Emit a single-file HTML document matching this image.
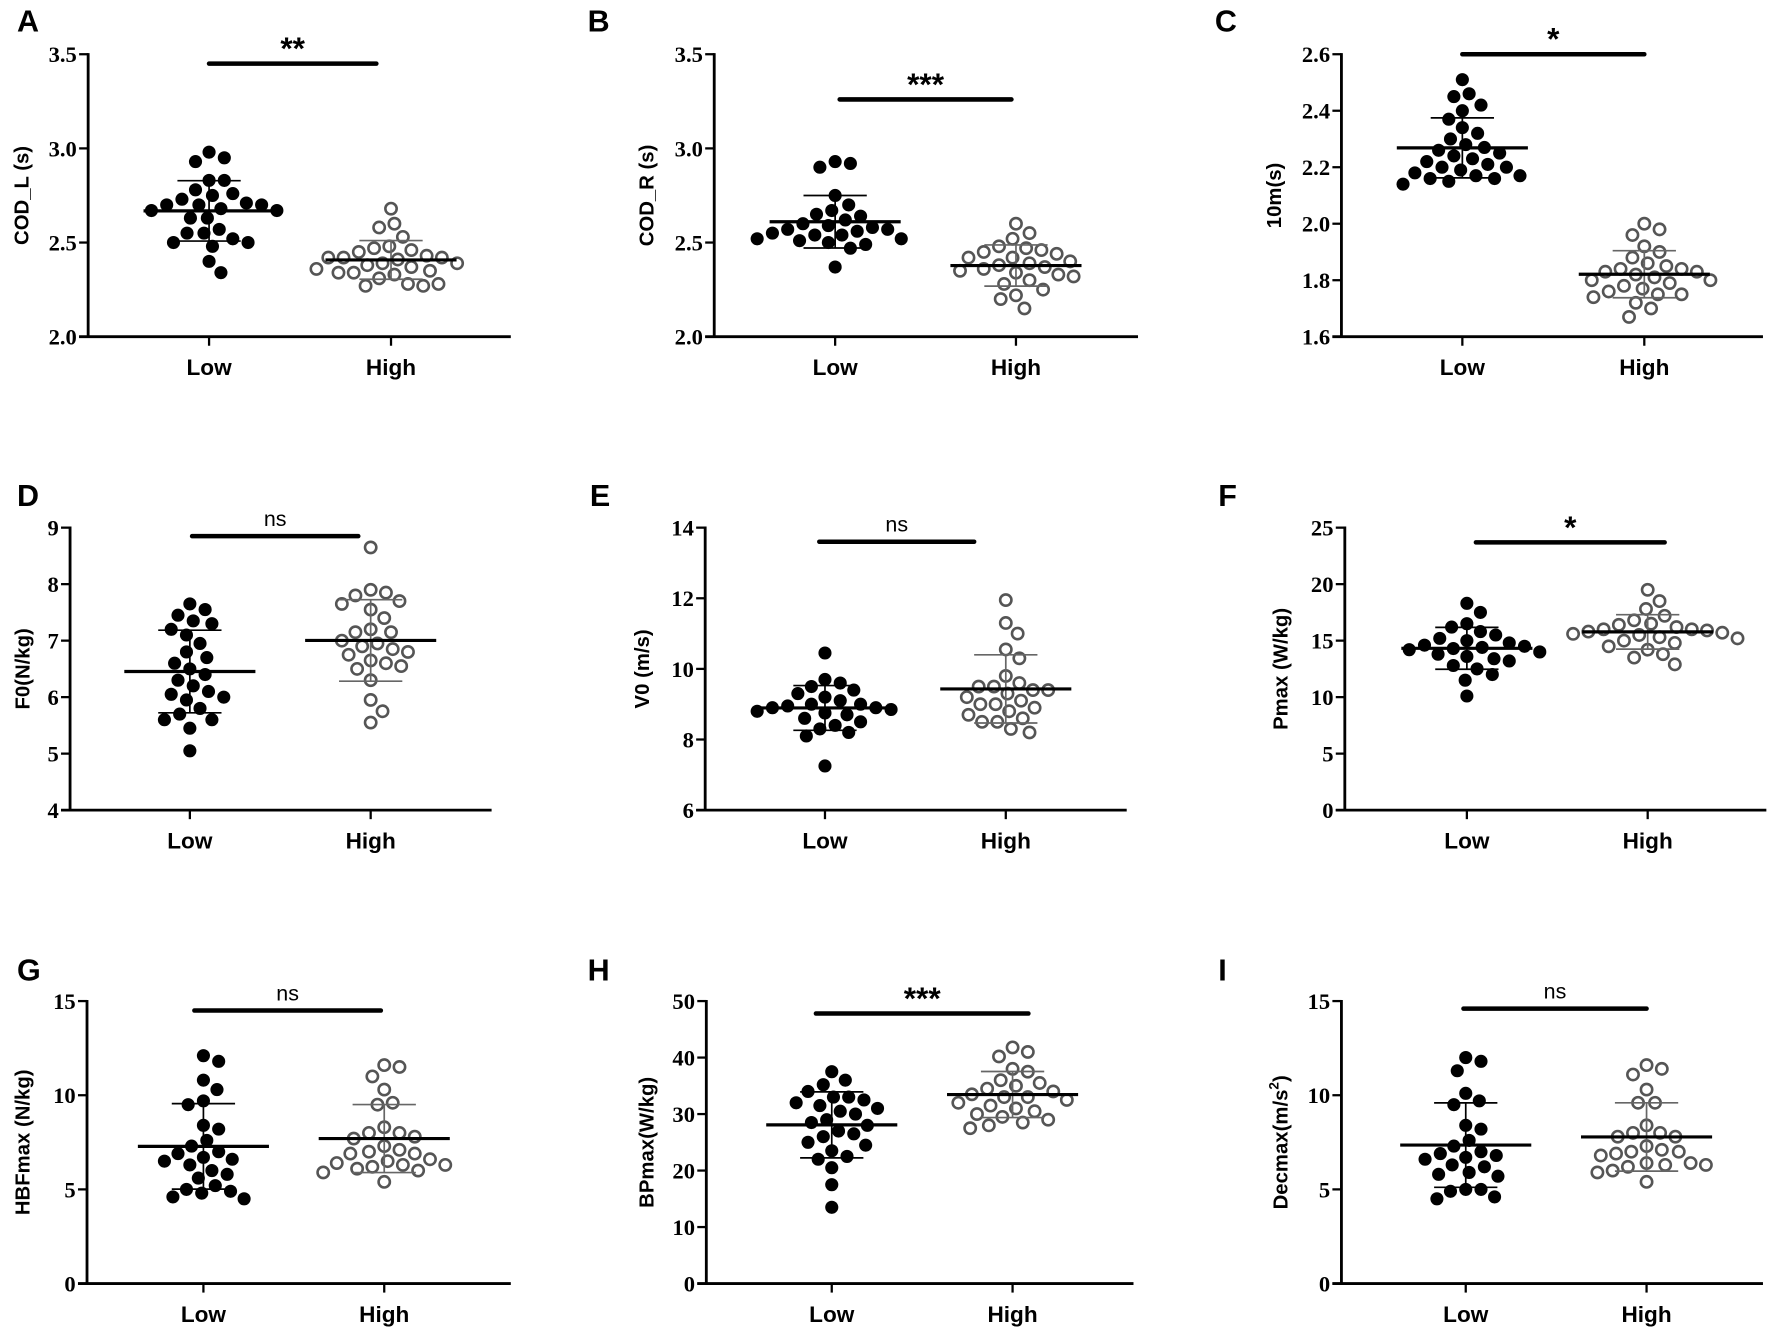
<!DOCTYPE html>
<html><head><meta charset="utf-8"><style>
html,body{margin:0;padding:0;background:#fff;}
svg{display:block;}
</style></head><body>
<svg id="fig" width="1772" height="1331" viewBox="0 0 1568 1178" preserveAspectRatio="none" xmlns="http://www.w3.org/2000/svg"></svg>
<script>
const categories = ["Low","High"];
const panelLetters = ["A","B","C","D","E","F","G","H","I"];
const yTitles = ["COD_L (s)","COD_R (s)","10m(s)","F0(N/kg)","V0 (m/s)","Pmax (W/kg)","HBFmax (N/kg)","BPmax(W/kg)","Decmax(m/s2)"];
const sigLabels = ["**","***","*","ns","ns","*","ns","***","ns"];
const sigValues = [3.45,3.26,2.6,8.85,13.6,23.7,14.5,47.8,14.6];
const yTicksA = [2.0,2.5,3.0,3.5];
const yTicksB = [2.0,2.5,3.0,3.5];
const yTicksC = [1.6,1.8,2.0,2.2,2.4,2.6];
const yTicksD = [4,5,6,7,8,9];
const yTicksE = [6,8,10,12,14];
const yTicksF = [0,5,10,15,20,25];
const yTicksG = [0,5,10,15];
const yTicksH = [0,10,20,30,40,50];
const yTicksI = [0,5,10,15];
const lowA = [2.98,2.95,2.93,2.83,2.83,2.78,2.76,2.75,2.73,2.71,2.70,2.70,2.70,2.68,2.67,2.67,2.63,2.63,2.57,2.55,2.55,2.52,2.50,2.50,2.48,2.40,2.34];
const highA = [2.68,2.60,2.58,2.53,2.48,2.47,2.46,2.45,2.43,2.42,2.42,2.42,2.41,2.39,2.39,2.38,2.37,2.36,2.35,2.34,2.34,2.33,2.31,2.28,2.28,2.27,2.27];
const lowB = [2.93,2.92,2.90,2.75,2.70,2.67,2.65,2.64,2.62,2.60,2.59,2.58,2.57,2.57,2.56,2.55,2.54,2.54,2.52,2.52,2.51,2.50,2.49,2.47,2.37];
const highB = [2.60,2.55,2.52,2.48,2.47,2.46,2.45,2.44,2.42,2.42,2.40,2.39,2.38,2.37,2.36,2.35,2.34,2.33,2.32,2.30,2.28,2.25,2.22,2.20,2.15];
const lowC = [2.51,2.46,2.45,2.42,2.40,2.37,2.34,2.32,2.30,2.28,2.27,2.26,2.25,2.24,2.23,2.22,2.21,2.20,2.20,2.19,2.18,2.17,2.17,2.16,2.16,2.15,2.14];
const highC = [2.00,1.98,1.96,1.92,1.90,1.88,1.86,1.85,1.84,1.84,1.83,1.83,1.82,1.81,1.80,1.80,1.79,1.78,1.77,1.76,1.75,1.75,1.74,1.72,1.70,1.67];
const lowD = [7.65,7.55,7.45,7.35,7.3,7.2,7.1,6.95,6.8,6.7,6.6,6.5,6.4,6.3,6.2,6.1,6.05,6.0,5.95,5.8,5.7,5.6,5.6,5.45,5.05];
const highD = [8.65,7.9,7.85,7.8,7.7,7.65,7.55,7.4,7.2,7.15,7.15,7.0,6.95,6.9,6.85,6.8,6.75,6.65,6.6,6.55,6.5,6.3,5.95,5.75,5.55];
const lowE = [10.45,9.7,9.6,9.5,9.4,9.3,9.2,9.1,9.0,9.0,8.95,8.9,8.9,8.85,8.8,8.75,8.7,8.6,8.5,8.4,8.3,8.2,8.1,7.25];
const highE = [11.95,11.3,11.0,10.55,10.3,9.8,9.6,9.5,9.5,9.4,9.4,9.3,9.2,9.1,9.0,9.0,8.9,8.8,8.7,8.6,8.5,8.5,8.3,8.2];
const lowF = [18.3,17.5,16.5,16.2,15.8,15.5,15.2,15.0,14.8,14.6,14.5,14.4,14.3,14.2,14.0,13.8,13.6,13.4,13.2,12.8,12.5,12.0,11.5,10.1];
const highF = [19.5,18.5,17.8,17.2,16.8,16.5,16.4,16.2,16.0,16.0,15.9,15.8,15.7,15.6,15.5,15.3,15.2,15.0,14.8,14.5,14.2,13.8,13.5,12.9];
const lowG = [12.1,11.8,10.8,10.3,9.7,9.5,8.4,8.2,7.6,7.3,7.0,6.9,6.7,6.6,6.5,6.3,6.0,5.8,5.6,5.2,5.0,4.9,4.8,4.6,4.5];
const highG = [11.6,11.5,11.0,10.3,9.6,9.5,8.3,8.0,8.0,7.8,7.7,7.3,7.1,7.0,6.9,6.9,6.6,6.5,6.4,6.3,6.3,6.2,6.1,6.0,5.9,5.4];
const lowH = [37.5,36.0,35.2,34.0,33.0,33.0,32.5,32.0,31.5,31.0,30.5,30.0,29.0,28.5,28.0,27.0,26.5,26.0,25.0,24.5,23.5,22.5,22.0,20.5,17.5,13.5];
const highH = [41.8,41.0,40.2,38.0,37.5,36.0,35.5,35.0,34.5,34.0,33.5,33.0,33.0,32.5,32.0,31.5,31.0,30.5,30.0,29.5,29.0,28.5,28.0,27.5];
const lowI = [12.0,11.8,11.3,10.1,9.7,9.5,8.4,8.2,7.6,7.3,7.0,6.9,6.8,6.7,6.6,6.3,6.2,5.9,5.8,5.7,5.0,5.0,4.9,4.6,4.5];
const highI = [11.6,11.4,11.1,10.3,9.6,9.6,8.4,8.0,8.0,7.8,7.8,7.3,7.1,7.0,7.0,6.9,6.8,6.4,6.4,6.3,6.3,6.2,6.0,5.9,5.4];

const tickSets=[yTicksA,yTicksB,yTicksC,yTicksD,yTicksE,yTicksF,yTicksG,yTicksH,yTicksI];
const lows=[lowA,lowB,lowC,lowD,lowE,lowF,lowG,lowH,lowI];
const highs=[highA,highB,highC,highD,highE,highF,highG,highH,highI];
const layout=[
 {ax:78,top:48,bot:298,right:452,c0:185,c1:346,lx:15,ly:28,tx:20,sx:[185,333]},
 {ax:632,top:48,bot:298,right:1007,c0:739,c1:899,lx:520,ly:28,tx:573,sx:[743,895]},
 {ax:1187,top:48,bot:298,right:1560,c0:1294,c1:1455,lx:1075,ly:28,tx:1128,sx:[1294,1455]},
 {ax:62,top:467,bot:717,right:435,c0:168,c1:328,lx:15,ly:448,tx:21,sx:[170,317]},
 {ax:624,top:467,bot:717,right:997,c0:730,c1:890,lx:522,ly:448,tx:569,sx:[725,862]},
 {ax:1190,top:467,bot:717,right:1563,c0:1298,c1:1458,lx:1078,ly:448,tx:1134,sx:[1306,1473]},
 {ax:77,top:886,bot:1136,right:452,c0:180,c1:340,lx:15,ly:868,tx:21,sx:[172,337]},
 {ax:625,top:886,bot:1136,right:1003,c0:736,c1:896,lx:520,ly:868,tx:573,sx:[722,910]},
 {ax:1187,top:886,bot:1136,right:1560,c0:1297,c1:1457,lx:1078,ly:868,tx:1134,sx:[1295,1457]}
];
const NS="http://www.w3.org/2000/svg";
const svg=document.getElementById('fig');
function mk(tag,attrs,parent){const e=document.createElementNS(NS,tag);for(const k in attrs)e.setAttribute(k,attrs[k]);(parent||svg).appendChild(e);return e;}
function swarm(ys,d){const placed=[];const out=[];
 ys.forEach(y=>{let best=0;for(let k=0;k<80;k++){const cands=k===0?[0]:[k*1.5,-k*1.5];let ok=null;
   for(const c of cands){if(placed.every(p=>Math.hypot(p[0]-c,p[1]-y)>=d)){ok=c;break;}}
   if(ok!==null){best=ok;break;}}
  placed.push([best,y]);out.push(best);});return out;}
layout.forEach((L,i)=>{
 const g=mk('g',{});
 
 
 const ticks=tickSets[i];const mn=ticks[0],mx=ticks[ticks.length-1];
 const yS=v=>L.bot-(v-mn)/(mx-mn)*(L.bot-L.top);
 const xS=j=>j===0?L.c0:L.c1;
 const letter=mk('text',{x:L.lx,y:L.ly,'font-family':'Liberation Sans, sans-serif','font-weight':'bold','font-size':27},g);letter.textContent=panelLetters[i];
 
 const yax=mk('line',{x1:L.ax,y1:L.top-1,x2:L.ax,y2:L.bot,stroke:'#000','stroke-width':2.5},g);
 
 const xax=mk('line',{x1:L.ax-8,y1:L.bot,x2:L.right,y2:L.bot,stroke:'#000','stroke-width':2.5},g);
 
 ticks.forEach(t=>{const y=yS(t);
  mk('line',{x1:L.ax-8,y1:y,x2:L.ax,y2:y,stroke:'#000','stroke-width':2},g);
  const tl=mk('text',{x:L.ax-10,y:y+7,'text-anchor':'end','font-family':'Liberation Serif, serif','font-weight':'bold','font-size':20},g);
  tl.textContent=(mx<5&&mn>0)?t.toFixed(1):String(t);
  });
 const cy=(L.top+L.bot)/2;
 const tt=mk('text',{x:L.tx,y:cy,transform:`rotate(-90 ${L.tx} ${cy})`,'text-anchor':'middle','dominant-baseline':'central','font-family':'Liberation Sans, sans-serif','font-weight':'bold','font-size':18},g);
 if(i===8){tt.textContent='Decmax(m/s';const sp=mk('tspan',{'baseline-shift':'super','font-size':12},tt);sp.textContent='2';tt.appendChild(document.createTextNode(')'));}
 else tt.textContent=yTitles[i];
 
 categories.forEach((c,j)=>{
  mk('line',{x1:xS(j),y1:L.bot,x2:xS(j),y2:L.bot+8,stroke:'#000','stroke-width':2},g);
  const cl=mk('text',{x:xS(j),y:L.bot+34,'text-anchor':'middle','font-family':'Liberation Sans, sans-serif','font-weight':'bold','font-size':20},g);cl.textContent=c;
  
  const vals=(j===0?lows:highs)[i];
  const sorted=vals.slice().sort((a,b)=>b-a);
  const ys=sorted.map(yS);const offs=swarm(ys,13.5);
  const col=j===0?'#000':'#555';
  sorted.forEach((v,k)=>{
   const p=mk('circle',{cx:xS(j)+offs[k],cy:ys[k],r:j===0?5.8:5,fill:j===0?'#000':'#fff',stroke:col,'stroke-width':j===0?0:2.3},g);
   });
  const mean=vals.reduce((a,b)=>a+b,0)/vals.length;
  const sd=Math.sqrt(vals.reduce((a,b)=>a+(b-mean)**2,0)/(vals.length-1));
  const eb=j===0?'#000':'#666';
  mk('line',{x1:xS(j),y1:yS(mean+sd),x2:xS(j),y2:yS(mean-sd),stroke:eb,'stroke-width':1.5},g);
  [mean+sd,mean-sd].forEach(v=>{const cap=mk('line',{x1:xS(j)-28,y1:yS(v),x2:xS(j)+28,y2:yS(v),stroke:eb,'stroke-width':1.5},g);
   });
  const ml=mk('line',{x1:xS(j)-58,y1:yS(mean),x2:xS(j)+58,y2:yS(mean),stroke:'#000','stroke-width':2.8},g);
  
 });
 const sy=yS(sigValues[i]);
 const sb=mk('line',{x1:L.sx[0],y1:sy,x2:L.sx[1],y2:sy,stroke:'#000','stroke-width':4,'stroke-linecap':'round'},g);
 
 const isNs=sigLabels[i]==='ns';
 const st=mk('text',{x:(L.sx[0]+L.sx[1])/2,y:isNs?sy-9:sy-4,'text-anchor':'middle','font-family':'Liberation Sans, sans-serif','font-weight':isNs?'normal':'bold','font-size':isNs?19:28},g);
 st.textContent=sigLabels[i];
 
});
</script>
</body></html>
